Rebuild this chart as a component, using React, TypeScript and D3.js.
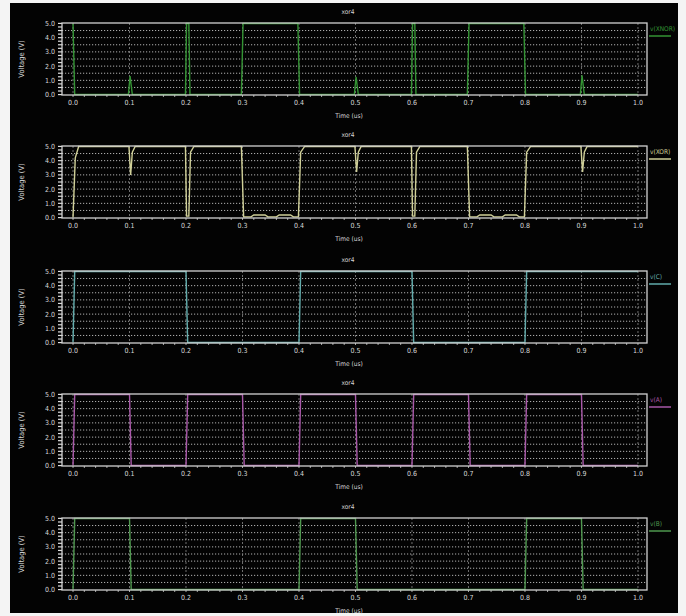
import React, { useEffect, useRef } from "react";
import * as d3 from "d3";

// waveform samples: [time (us), voltage (V)]
const vXNOR: [number, number][] = [
  [0, 5], [0.003, 0], [0.098, 0], [0.101, 1.3], [0.105, 0], [0.199, 0], [0.201, 5], [0.205, 5],
  [0.207, 0], [0.298, 0], [0.301, 5], [0.398, 5], [0.401, 0], [0.498, 0], [0.501, 1.25], [0.505, 0],
  [0.599, 0], [0.601, 5], [0.605, 5], [0.607, 0], [0.698, 0], [0.701, 5], [0.798, 5], [0.801, 0],
  [0.898, 0], [0.901, 1.35], [0.905, 0], [1.0, 0],
];

const vXOR: [number, number][] = [
  [0, 0], [0.004, 4.2], [0.01, 5], [0.099, 5], [0.102, 3.0], [0.105, 4.6], [0.11, 5],
  [0.199, 5], [0.201, 0.1], [0.205, 0.1], [0.208, 4.6], [0.214, 5], [0.298, 5], [0.302, 0.05],
  [0.315, 0.05], [0.32, 0.18], [0.34, 0.18], [0.345, 0.05], [0.36, 0.05], [0.365, 0.18], [0.385, 0.18],
  [0.39, 0.05], [0.399, 0.05], [0.403, 4.6], [0.41, 5], [0.499, 5], [0.502, 3.2], [0.505, 4.6], [0.51, 5],
  [0.599, 5], [0.601, 0.1], [0.605, 0.1], [0.608, 4.6], [0.614, 5], [0.698, 5], [0.702, 0.05],
  [0.715, 0.05], [0.72, 0.18], [0.74, 0.18], [0.745, 0.05], [0.76, 0.05], [0.765, 0.18], [0.785, 0.18],
  [0.79, 0.05], [0.799, 0.05], [0.803, 4.6], [0.81, 5], [0.899, 5], [0.902, 3.2], [0.905, 4.6], [0.91, 5],
  [1.0, 5],
];

const vC: [number, number][] = [
  [0, 0], [0.003, 5], [0.2, 5], [0.203, 0], [0.4, 0], [0.403, 5], [0.6, 5], [0.603, 0],
  [0.8, 0], [0.803, 5], [1.0, 5],
];

const vA: [number, number][] = [
  [0, 0], [0.003, 5], [0.1, 5], [0.103, 0], [0.2, 0], [0.203, 5], [0.3, 5], [0.303, 0],
  [0.4, 0], [0.403, 5], [0.5, 5], [0.503, 0], [0.6, 0], [0.603, 5], [0.7, 5], [0.703, 0],
  [0.8, 0], [0.803, 5], [0.9, 5], [0.903, 0], [1.0, 0],
];

const vB: [number, number][] = [
  [0, 0], [0.003, 5], [0.1, 5], [0.103, 0], [0.4, 0], [0.403, 5], [0.5, 5], [0.503, 0],
  [0.8, 0], [0.803, 5], [0.9, 5], [0.903, 0], [1.0, 0],
];

const seriesNames = ["v(XNOR)", "v(XOR)", "v(C)", "v(A)", "v(B)"];
const seriesData = [vXNOR, vXOR, vC, vA, vB];
const seriesColors = ["#349434", "#d0d098", "#62acac", "#a958a9", "#4f984f"];

const xTicks = [0, 0.1, 0.2, 0.3, 0.4, 0.5, 0.6, 0.7, 0.8, 0.9, 1.0];
const yTicks = [0, 1, 2, 3, 4, 5];
const plotTitle = "xor4";
const xLabel = "Time (us)";
const yLabel = "Voltage (V)";

const App = () => {
  const svgRef = useRef<SVGSVGElement>(null);

  useEffect(() => {
    const svg = d3.select(svgRef.current);
    svg.selectAll("*").remove();

    const width = 686;
    const height = 616;
    const left = 62;
    const right = 647;
    const tops = [23, 146, 271, 394, 518];
    const ph = 72;
    const font = "'DejaVu Sans Condensed', 'Liberation Sans Narrow', sans-serif";

    svg.append("rect").attr("width", width).attr("height", height).attr("fill", "#f4f4f4");
    svg.append("rect").attr("x", 10).attr("y", 3).attr("width", 668).attr("height", 610).attr("fill", "#030303");

    const x = d3.scaleLinear().domain([-0.0195, 1.016]).range([left, right]);

    seriesNames.forEach((name, i) => {
      const top = tops[i];
      const bottom = top + ph;
      const y = d3.scaleLinear().domain([-0.03, 5.03]).range([bottom, top]);
      const g = svg.append("g");
      const color = seriesColors[i];

      // horizontal dotted grid every 0.5 V
      g.selectAll(".hg")
        .data(d3.range(0.5, 5, 0.5))
        .enter()
        .append("line")
        .attr("x1", left).attr("x2", right)
        .attr("y1", d => y(d)).attr("y2", d => y(d))
        .attr("stroke", "#c4c4c4")
        .attr("stroke-width", 0.9)
        .attr("stroke-dasharray", "1.2,1.8");

      // vertical dashed grid
      g.selectAll(".vg")
        .data(xTicks)
        .enter()
        .append("line")
        .attr("x1", d => x(d)).attr("x2", d => x(d))
        .attr("y1", top).attr("y2", bottom)
        .attr("stroke", "#8a8a8a")
        .attr("stroke-width", 0.8)
        .attr("stroke-dasharray", "2,2");

      // left minor ticks
      g.selectAll(".yt")
        .data(d3.range(0, 5.01, 0.25))
        .enter()
        .append("line")
        .attr("x1", left - 4).attr("x2", left)
        .attr("y1", d => y(d)).attr("y2", d => y(d))
        .attr("stroke", "#e0e0e0")
        .attr("stroke-width", 1.2);

      // bottom minor ticks
      g.selectAll(".xt")
        .data(d3.range(0, 1.001, 0.02))
        .enter()
        .append("line")
        .attr("x1", d => x(d)).attr("x2", d => x(d))
        .attr("y1", bottom).attr("y2", bottom + 2)
        .attr("stroke", "#d0d0d0")
        .attr("stroke-width", 0.8);

      const line = d3.line<[number, number]>()
        .x(d => x(d[0]))
        .y(d => y(d[1]));

      g.append("path")
        .datum(seriesData[i])
        .attr("fill", "none")
        .attr("stroke", color)
        .attr("stroke-width", 1.4)
        .attr("d", line);

      // frame
      g.append("rect")
        .attr("x", left).attr("y", top)
        .attr("width", right - left).attr("height", ph)
        .attr("fill", "none")
        .attr("stroke", "#d2d2d2")
        .attr("stroke-width", 1.3);

      // y tick labels
      g.selectAll(".yl")
        .data(yTicks)
        .enter()
        .append("text")
        .attr("x", left - 7)
        .attr("y", d => y(d) + 2.5)
        .attr("text-anchor", "end")
        .attr("font-family", font)
        .attr("font-size", 7)
        .attr("fill", "#d8d8d8")
        .text(d => d.toFixed(1));

      // x tick labels
      g.selectAll(".xl")
        .data(xTicks)
        .enter()
        .append("text")
        .attr("x", d => x(d))
        .attr("y", bottom + 10)
        .attr("text-anchor", "middle")
        .attr("font-family", font)
        .attr("font-size", 7)
        .attr("fill", "#d8d8d8")
        .text(d => d.toFixed(1));

      g.append("text")
        .attr("x", 349).attr("y", bottom + 23)
        .attr("text-anchor", "middle")
        .attr("font-family", font)
        .attr("font-size", 6.5)
        .attr("fill", "#d8d8d8")
        .text(xLabel);

      g.append("text")
        .attr("x", 348).attr("y", top - 9)
        .attr("text-anchor", "middle")
        .attr("font-family", font)
        .attr("font-size", 6.5)
        .attr("fill", "#d8d8d8")
        .text(plotTitle);

      g.append("text")
        .attr("transform", `translate(24,${top + ph / 2}) rotate(-90)`)
        .attr("text-anchor", "middle")
        .attr("font-family", font)
        .attr("font-size", 7.5)
        .attr("fill", "#d8d8d8")
        .text(yLabel);

      // legend
      g.append("text")
        .attr("x", 650).attr("y", top + 8)
        .attr("font-family", font)
        .attr("font-size", 6.5)
        .attr("fill", color)
        .text(name);
      g.append("line")
        .attr("x1", 649).attr("x2", 671)
        .attr("y1", top + 13).attr("y2", top + 13)
        .attr("stroke", color)
        .attr("stroke-width", 1.5);
    });
  }, []);

  return (
    <svg
      ref={svgRef}
      width={686}
      height={616}
      style={{ position: "absolute", left: 0, top: 0 }}
    ></svg>
  );
};

export default App;
